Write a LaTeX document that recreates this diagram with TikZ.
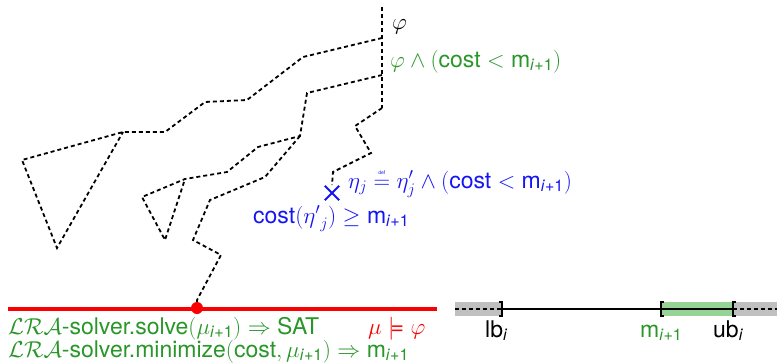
\documentclass[tikz,border=0pt]{standalone}
\usepackage{amsmath}
\usepackage{fontspec}
\setmainfont{TeX Gyre Heros}
\DeclareFontShape{OML}{cmm}{m}{it}{<-6>cmmi5<6-7>cmmi6<7-8>cmmi7<8-9>cmmi8<9-10>cmmi9<10-12>cmmi10<12->cmmi12}{}
\DeclareFontShape{OMS}{cmsy}{m}{n}{<-6>cmsy5<6-7>cmsy6<7-8>cmsy7<8-9>cmsy8<9-10>cmsy9<10->cmsy10}{}
\DeclareFontShape{OT1}{cmr}{m}{n}{<-6>cmr5<6-7>cmr6<7-8>cmr7<8-9>cmr8<9-10>cmr9<10-12>cmr10<12-17>cmr12<17->cmr17}{}
\definecolor{tgreen}{RGB}{40,150,40}
\definecolor{tblue}{RGB}{20,20,245}
\definecolor{tred}{RGB}{250,0,0}
\definecolor{bargray}{RGB}{192,192,192}
\definecolor{bargreen}{RGB}{150,212,150}
\newcommand\mip{\text{m}_{\text{\textit{i}+1}}}
\newcommand\ipo{_{\text{\textit{i}+1}}}
\tikzset{
  dsh/.style={draw=black, line width=1.8pt, dash pattern=on 4pt off 3pt},
  lbl/.style={inner sep=0pt, anchor=base west, font=\fontsize{23}{27}\selectfont},
  brk/.style={draw=black, line width=1.6pt},
}
\begin{document}
\begin{tikzpicture}[x=1pt,y=-1pt]
\useasboundingbox (0,0) rectangle (777,364);
% coordinates
\coordinate (t0) at (382,7);
\coordinate (t1) at (382,38);
\coordinate (t2) at (382,75);
\coordinate (t3) at (382,108);
% path A
\coordinate (a1) at (303,57);
\coordinate (a2) at (247,100);
\coordinate (a3) at (205,102);
\coordinate (a4) at (165,132);
\coordinate (a5) at (123,132);
\coordinate (a6) at (22,160);
\coordinate (a7) at (57,248);
% path B
\coordinate (b1) at (307,93);
\coordinate (b2) at (300,136);
\coordinate (b3) at (258,147);
\coordinate (b4) at (227,172);
\coordinate (b5) at (185,179);
\coordinate (b6) at (142,197);
\coordinate (b7) at (165,240);
\coordinate (c1) at (265,177);
\coordinate (c2) at (210,200);
\coordinate (c3) at (193,240);
\coordinate (c4) at (221,255);
\coordinate (c5) at (197,300);
% path C
\coordinate (d1) at (355,126);
\coordinate (d2) at (371,153);
\coordinate (d3) at (333,172);
\coordinate (d4) at (332,185);
% dashed paths
\draw[dsh] (t0) -- (t3);
\draw[dsh] (t1) -- (a1) -- (a2) -- (a3) -- (a4) -- (a5) -- (a6) -- (a7) -- (a5);
\draw[dsh] (t2) -- (b1) -- (b2) -- (b3) -- (b4) -- (b5) -- (b6) -- (b7) -- (b5);
\draw[dsh] (b2) -- (c1) -- (c2) -- (c3) -- (c4) -- (c5);
\draw[dsh] (t3) -- (d1) -- (d2) -- (d3) -- (d4);
% blue cross
\node[inner sep=0pt, minimum size=14pt] (x) at (332,193) {};
\draw[tblue, line width=1.8pt] (x.north west) -- (x.south east) (x.north east) -- (x.south west);
% red line
\coordinate (r0) at (8,309);
\coordinate (r1) at (437,309);
\draw[tred, line width=4pt] (r0) -- (r1);
\node[circle, fill=tred, inner sep=0pt, minimum size=12pt] (dot) at (197,308) {};
\draw[dsh] (c5) -- (dot);
% number line
\fill[bargray] (455,302) rectangle (502,316);
\fill[bargreen] (661,302) rectangle (732,316);
\fill[bargray] (733,302) rectangle (777,316);
\coordinate (n0) at (455,309);
\coordinate (n1) at (502,309);
\coordinate (n2) at (733,309);
\coordinate (n3) at (777,309);
\draw[dsh, line width=1.4pt] (n0) -- (n1);
\draw[dsh, line width=1.4pt] (n2) -- (n3);
\draw[black, line width=1.2pt] (n1) -- (n2);
\draw[brk] (499,302) -- (502,302) -- (502,316) -- (499,316);
\draw[brk] (664,302) -- (661,302) -- (661,316) -- (664,316);
\draw[brk] (736,302) -- (733,302) -- (733,316) -- (736,316);
% labels
\node[lbl] (phi) at (392,29) {$\varphi$};
\node[lbl, text=tgreen] (phic) at (390,67) {$\varphi\wedge(\text{cost}<\mip)$};
\node[lbl, text=tblue] (eta) at (348,188) {$\eta_j\stackrel{\text{\tiny def}}{=}\eta'_j\wedge(\text{cost}<\mip)$};
\node[lbl, text=tblue] (cst) at (253,223) {$\text{cost}({\eta'}_j)\geq\mip$};
\node[lbl, text=tgreen] (s1) at (8,334) {$\mathcal{LRA}$-solver.solve$(\mu\ipo)\Rightarrow$ SAT};
\node[lbl, text=tgreen] (s2) at (8,357) {$\mathcal{LRA}$-solver.minimize$(\text{cost},\mu\ipo)\Rightarrow\mip$};
\node[lbl, text=tred] (mod) at (368,334) {$\mu\models\varphi$};
\node[lbl] (lb) at (485,337) {lb$_{\text{\textit{i}}}$};
\node[lbl, text=tgreen] (mm) at (640,337) {$\mip$};
\node[lbl] (ub) at (713,337) {ub$_{\text{\textit{i}}}$};
\end{tikzpicture}
\end{document}
